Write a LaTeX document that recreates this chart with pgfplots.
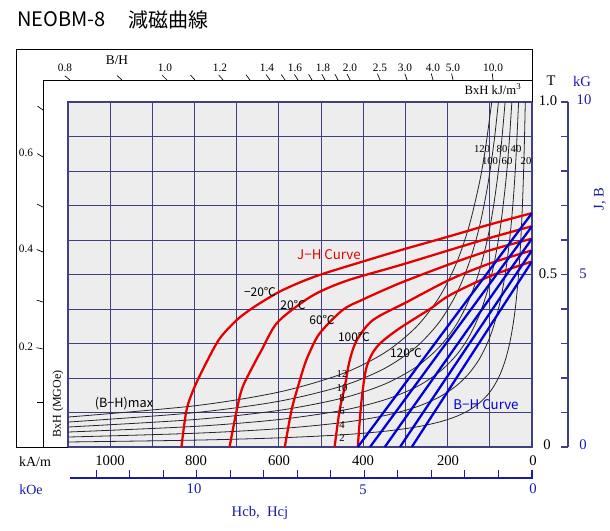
\documentclass[border=0pt]{standalone}
\usepackage{pgfplots}
\pgfplotsset{compat=1.18}
\usetikzlibrary{calc}
\usepackage{fontspec}
\setmainfont{Liberation Serif}
\newfontfamily\jp{Noto Sans CJK JP}

\definecolor{gridnavy}{RGB}{64,64,128}
\definecolor{jhred}{RGB}{228,0,0}
\definecolor{bhblue}{RGB}{0,0,215}
\definecolor{txtblue}{RGB}{25,25,175}

\begin{document}
\begin{tikzpicture}[x=0.75pt,y=-0.75pt]
\useasboundingbox (0,0) rectangle (610,531);

\begin{axis}[
  at={(51pt,-335.25pt)}, anchor=south west,
  scale only axis, width=348pt, height=258.75pt,
  x dir=reverse, xmin=0, xmax=1100, ymin=0, ymax=1,
  xtick={0,100,200,300,400,500,600,700,800,900,1000,1100},
  ytick={0,0.1,0.2,0.3,0.4,0.5,0.6,0.7,0.8,0.9,1.0},
  xticklabels={}, yticklabels={},
  major tick length=0pt,
  grid=major,
  grid style={gridnavy, line width=0.7pt},
  axis line style={gridnavy, line width=0.8pt},
  axis background/.style={fill=black!7},
]

%% BxH hyperbolas, 2..12 MGOe
\addplot[black!85, line width=0.6pt, smooth] coordinates {
 (1100,0.0868) (800,0.1194) (600,0.1592) (450,0.2122) (350,0.2728) (275,0.3472)
 (220,0.4340) (180,0.5305) (150,0.6366) (125,0.7639) (110,0.8681) (95.5,1.0)};
\addplot[black!85, line width=0.6pt, smooth] coordinates {
 (1100,0.0723) (800,0.0995) (600,0.1326) (450,0.1768) (350,0.2274) (275,0.2894)
 (220,0.3617) (180,0.4421) (150,0.5305) (125,0.6366) (105,0.7579) (90,0.8842) (79.6,1.0)};
\addplot[black!85, line width=0.6pt, smooth] coordinates {
 (1100,0.0579) (800,0.0796) (600,0.1061) (450,0.1415) (350,0.1819) (275,0.2315)
 (220,0.2894) (180,0.3537) (150,0.4244) (125,0.5093) (105,0.6063) (90,0.7073) (75,0.8488) (63.7,1.0)};
\addplot[black!85, line width=0.6pt, smooth] coordinates {
 (1100,0.0434) (800,0.0597) (600,0.0796) (450,0.1061) (350,0.1364) (275,0.1736)
 (220,0.2170) (180,0.2653) (150,0.3183) (125,0.3820) (105,0.4548) (90,0.5306) (75,0.6367)
 (62,0.7702) (54,0.8843) (47.75,1.0)};
\addplot[black!85, line width=0.6pt, smooth] coordinates {
 (1100,0.0289) (800,0.0398) (600,0.0531) (450,0.0707) (350,0.0909) (275,0.1157)
 (220,0.1447) (180,0.1768) (150,0.2122) (125,0.2546) (105,0.3031) (90,0.3537) (75,0.4244)
 (62,0.5134) (52,0.6121) (44,0.7234) (38,0.8376) (31.8,1.0)};
\addplot[black!85, line width=0.6pt, smooth] coordinates {
 (1100,0.0145) (800,0.0199) (600,0.0265) (450,0.0354) (350,0.0455) (275,0.0579)
 (220,0.0724) (180,0.0884) (150,0.1061) (125,0.1274) (105,0.1516) (90,0.1769) (75,0.2123)
 (62,0.2568) (52,0.3062) (44,0.3618) (38,0.4189) (32,0.4975) (27,0.5896) (23,0.6922)
 (20,0.7960) (17.5,0.9097) (15.9,1.0)};

%% J-H curves
\addplot[jhred, line width=1.7pt, smooth] coordinates {
 (0,0.678) (100,0.645) (195,0.611) (313,0.570) (400,0.538) (503,0.499) (560,0.472)
 (605,0.446) (660,0.405) (700,0.368) (740,0.315) (769,0.252) (800,0.174) (819,0.107) (831,0)};
\addplot[jhred, line width=1.7pt, smooth] coordinates {
 (0,0.640) (100,0.606) (195,0.571) (313,0.527) (432,0.485) (500,0.452) (544,0.420)
 (605,0.359) (641,0.281) (657,0.245) (686,0.174) (700,0.107) (717,0)};
\addplot[jhred, line width=1.7pt, smooth] coordinates {
 (0,0.604) (100,0.570) (195,0.530) (313,0.475) (400,0.428) (449,0.397) (503,0.330)
 (527,0.275) (540,0.235) (555,0.174) (570,0.107) (586,0)};
\addplot[jhred, line width=1.7pt, smooth] coordinates {
 (0,0.570) (100,0.532) (195,0.485) (297,0.420) (377,0.368) (415,0.310) (432,0.252)
 (444,0.174) (456,0.107) (468,0)};
\addplot[jhred, line width=1.7pt, smooth] coordinates {
 (0,0.538) (100,0.495) (195,0.440) (242,0.400) (320,0.339) (368,0.290) (392,0.232)
 (404,0.136) (413,0)};

%% B-H curves
\addplot[bhblue, line width=1.7pt] coordinates {(0,0.678) (413,0)};
\addplot[bhblue, line width=1.7pt] coordinates {(0,0.640) (384,0)};
\addplot[bhblue, line width=1.7pt] coordinates {(0,0.604) (349,0)};
\addplot[bhblue, line width=1.7pt] coordinates {(0,0.570) (313,0)};
\addplot[bhblue, line width=1.7pt] coordinates {(0,0.538) (285,0)};
\end{axis}

% frames
\draw[black, line width=0.6pt] (16,447) -- (16,49) -- (532,49) -- (532,102);
\draw[black, line width=0.6pt] (43,447) -- (43,80) -- (532,80);
\draw[black, line width=0.6pt] (16,447) -- (68,447);

% title
\node[anchor=west, font=\jp\fontsize{15}{17}\selectfont, inner sep=0pt] at (17,19.5) {NEOBM-8};
\node[anchor=west, font=\jp\fontsize{15}{17}\selectfont, inner sep=0pt] at (128,19.5) {減磁曲線};

% B/H scale on top
\foreach \xx in {70,122,167,195,223,250,270,285,298,312,325,338,350,380,407,433,453,493}
  \draw[line width=0.5pt] (\xx,80) -- ($(\xx,80)!-5pt!(532,447)$);
\foreach \xx/\lab in {65/0.8,165/1.0,220/1.2,267/1.4,295/1.6,323/1.8,350/2.0,380/2.5,405/3.0,433/4.0,453/5.0,493/10.0}
  \node[font=\fontsize{8.5}{10}\selectfont, inner sep=0pt] at (\xx,67.5) {\lab};
\node[font=\fontsize{10}{12}\selectfont, inner sep=0pt] at (117,60) {B/H};
\node[font=\fontsize{9.5}{11}\selectfont, inner sep=0pt] at (493,89) {BxH kJ/m\textsuperscript{3}};

% BxH (MGOe) scale on the left
\foreach \yy in {110,157,207,252,302,349}
  \draw[line width=0.5pt] (43,\yy) -- ($(43,\yy)!-5pt!(532,447)$);
\draw[line width=0.5pt] (37,402) -- (43,402);
\foreach \yy/\lab in {153/0.6,249/0.4,347/0.2}
  \node[font=\fontsize{8.5}{10}\selectfont, inner sep=0pt] at (26,\yy) {\lab};
\node[rotate=90, font=\fontsize{9}{11}\selectfont, inner sep=0pt] at (58,404) {BxH (MGOe)};

% bottom kA/m labels
\node[font=\fontsize{10.5}{12}\selectfont, inner sep=0pt] at (35,462) {kA/m};
\foreach \xx/\lab in {110/1000,196/800,279/600,363/400,448/200,533/0}
  \node[font=\fontsize{11}{12}\selectfont, inner sep=0pt] at (\xx,461) {\lab};

% kOe scale
\draw[txtblue, line width=0.8pt] (70,478) -- (533,478);
\foreach \k in {0,...,13}
  \draw[txtblue, line width=0.8pt] ({532-33.53*\k},478) -- ({532-33.53*\k},470);
\node[txtblue, font=\fontsize{10.5}{12}\selectfont, inner sep=0pt] at (31,490) {kOe};
\node[txtblue, font=\fontsize{11}{12}\selectfont, inner sep=0pt] at (194,489) {10};
\node[txtblue, font=\fontsize{11}{12}\selectfont, inner sep=0pt] at (363,490) {5};
\node[txtblue, font=\fontsize{11}{12}\selectfont, inner sep=0pt] at (533,489) {0};
\node[txtblue, font=\fontsize{11}{12}\selectfont, inner sep=0pt] at (260,513) {Hcb,\ \ Hcj};

% right J,B scale
\draw[gridnavy, line width=0.8pt] (568,102) -- (568,447);
\foreach \k in {0,...,10}
  \draw[gridnavy, line width=0.8pt] (561,{447-34.5*\k}) -- (568,{447-34.5*\k});
\node[font=\fontsize{11}{12}\selectfont, inner sep=0pt] at (551,81) {T};
\node[txtblue, font=\fontsize{11}{12}\selectfont, inner sep=0pt] at (582,81) {kG};
\node[font=\fontsize{11}{12}\selectfont, inner sep=0pt] at (548,101) {1.0};
\node[font=\fontsize{11}{12}\selectfont, inner sep=0pt] at (548,274) {0.5};
\node[font=\fontsize{11}{12}\selectfont, inner sep=0pt] at (547,445) {0};
\node[txtblue, font=\fontsize{11}{12}\selectfont, inner sep=0pt] at (584,100) {10};
\node[txtblue, font=\fontsize{11}{12}\selectfont, inner sep=0pt] at (583,274) {5};
\node[txtblue, font=\fontsize{11}{12}\selectfont, inner sep=0pt] at (583,445) {0};
\node[txtblue, rotate=90, font=\fontsize{11}{12}\selectfont, inner sep=0pt] at (600,199) {J, B};

% curve labels
\node[jhred, font=\jp\fontsize{10}{12}\selectfont, inner sep=0pt] at (329,255) {J−H Curve};
\node[bhblue, font=\jp\fontsize{10}{12}\selectfont, inner sep=0pt] at (486,405) {B−H Curve};
\node[font=\jp\fontsize{9.5}{12}\selectfont, inner sep=0pt] at (124,404) {(B−H)max};
\foreach \xx/\yy/\lab in {260/292/−20℃,293/305/20℃,322/320/60℃,354/337/100℃,406/353/120℃}
  \node[font=\jp\fontsize{9}{11}\selectfont, inner sep=0pt] at (\xx,\yy) {\lab};
\foreach \yy/\lab in {374/12,388/10,398/8,411/6,425/4,438/2}
  \node[font=\fontsize{8}{9}\selectfont, inner sep=0pt] at (342,\yy) {\lab};
\foreach \xx/\lab in {482/120,502/80,516/40}
  \node[font=\fontsize{8}{9}\selectfont, inner sep=0pt] at (\xx,149) {\lab};
\foreach \xx/\lab in {490/100,507/60,526/20}
  \node[font=\fontsize{8}{9}\selectfont, inner sep=0pt] at (\xx,161) {\lab};
\end{tikzpicture}
\end{document}
